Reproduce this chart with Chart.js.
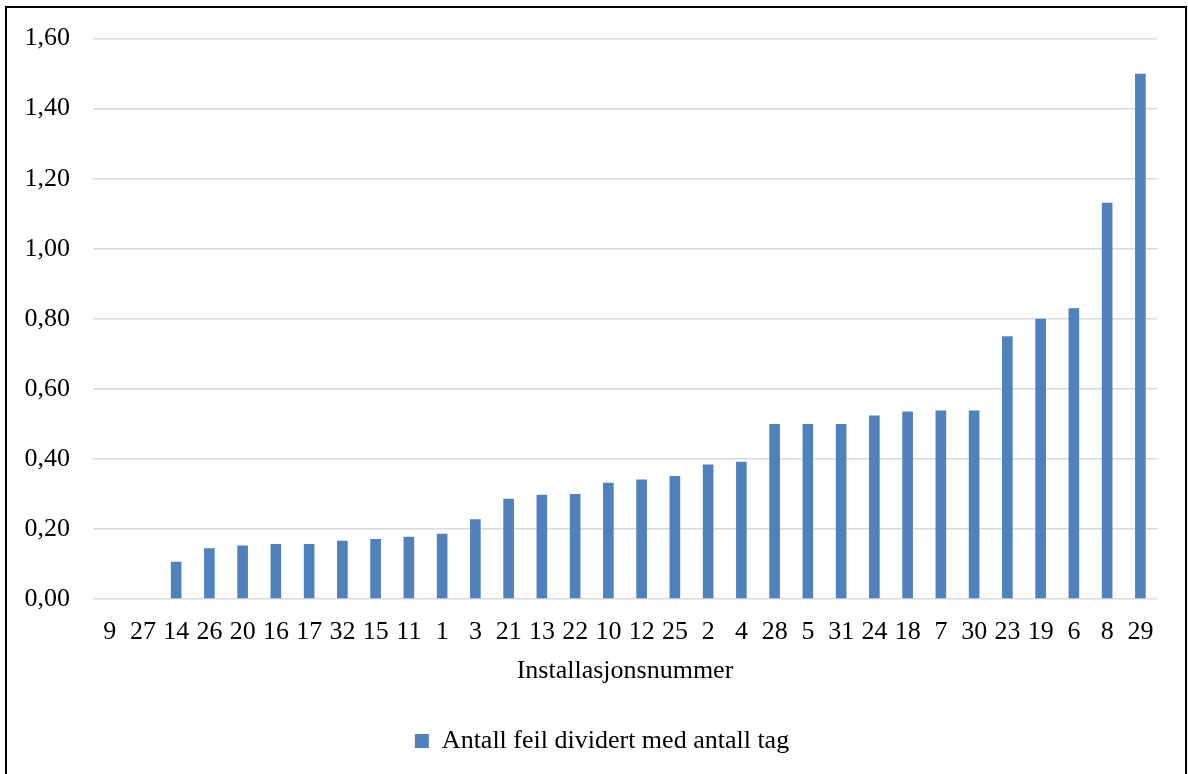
<!DOCTYPE html>
<html>
<head>
<meta charset="utf-8">
<style>
  html, body { margin: 0; padding: 0; background: #ffffff; }
  #wrap { position: relative; width: 1188px; height: 774px; }
</style>
<script src="https://cdn.jsdelivr.net/npm/chart.js@4.4.1/dist/chart.umd.min.js"></script>
</head>
<body>
<div id="wrap"><canvas id="chart" width="1188" height="774"></canvas></div>
<script>
// Installation numbers, sorted by failure rate
const installations = ['9', '27', '14', '26', '20', '16', '17', '32', '15', '11', '1', '3', '21', '13', '22', '10', '12', '25', '2', '4', '28', '5', '31', '24', '18', '7', '30', '23', '19', '6', '8', '29'];

// Number of failures divided by number of tags
const failuresPerTag = [0, 0, 0.106, 0.145, 0.153, 0.157, 0.157, 0.166, 0.171, 0.178, 0.186, 0.228, 0.286, 0.298, 0.300, 0.332, 0.341, 0.351, 0.384, 0.392, 0.50, 0.50, 0.50, 0.524, 0.535, 0.538, 0.538, 0.75, 0.80, 0.83, 1.131, 1.50];

const yTicks = [0, 0.2, 0.4, 0.6, 0.8, 1.0, 1.2, 1.4, 1.6];

const seriesLabel = 'Antall feil dividert med antall tag';
const axisTitle = 'Installasjonsnummer';

const FONT = "'Liberation Serif', 'Times New Roman', serif";

// Thin black frame around the whole chart
const framePlugin = {
  id: 'frame',
  afterDraw(chart) {
    const ctx = chart.ctx;
    ctx.save();
    ctx.strokeStyle = '#000000';
    ctx.lineWidth = 2;
    ctx.strokeRect(6, 7, 1180, 900);
    ctx.restore();
  }
};

new Chart(document.getElementById('chart'), {
  type: 'bar',
  data: {
    labels: installations,
    datasets: [{
      label: seriesLabel,
      data: failuresPerTag,
      backgroundColor: '#4f81bd',
      borderWidth: 0,
      barPercentage: 0.32,
      categoryPercentage: 1.0
    }]
  },
  options: {
    responsive: false,
    animation: false,
    devicePixelRatio: 1,
    layout: { padding: { left: 16, right: 0, top: 36, bottom: 10 } },
    plugins: {
      tooltip: { enabled: false },
      legend: {
        position: 'bottom',
        labels: {
          color: '#000000',
          boxWidth: 14,
          boxHeight: 14,
          font: { family: FONT, size: 26 }
        }
      }
    },
    scales: {
      x: {
        grid: { display: false },
        border: { display: false },
        ticks: {
          color: '#000000',
          autoSkip: false,
          maxRotation: 0,
          padding: 10,
          font: { family: FONT, size: 26 }
        },
        title: {
          display: true,
          text: axisTitle,
          color: '#000000',
          padding: { top: 0, bottom: 31 },
          font: { family: FONT, size: 26 }
        },
        afterFit(scale) { scale.height = 119; }
      },
      y: {
        min: 0,
        max: 1.6,
        afterBuildTicks(scale) { scale.ticks = yTicks.map(v => ({ value: v })); },
        grid: { color: '#d9d9d9', lineWidth: 1.5, drawTicks: false },
        border: { display: false },
        ticks: {
          color: '#000000',
          padding: 23,
          font: { family: FONT, size: 26 },
          callback: v => Number(v).toFixed(2).replace('.', ',')
        },
        afterFit(scale) { scale.width = 77; }
      },
      // empty right-hand margin beside the plot area
      yRight: {
        position: 'right',
        grid: { display: false },
        border: { display: false },
        ticks: { display: false },
        afterFit(scale) { scale.width = 31; }
      }
    }
  },
  plugins: [framePlugin]
});
</script>
</body>
</html>
